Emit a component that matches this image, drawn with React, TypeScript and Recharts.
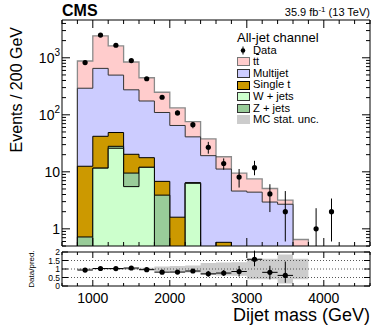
import React from 'react';
import {
  ComposedChart,
  Area,
  Scatter,
  ErrorBar,
  XAxis,
  YAxis,
  ReferenceLine,
  Legend,
  Label,
} from 'recharts';

const FONT = '"Liberation Sans", Arial, Helvetica, sans-serif';

// histogram bins: low edges in GeV, 200 GeV wide
const binEdges = [800, 1000, 1200, 1400, 1600, 1800, 2000, 2200, 2400, 2600, 2800, 3000, 3200, 3400, 3600];
const binEnd = 3800;

// stacked components, bottom to top
const wJets = [0, 11.6, 25.9, 5.5, 12.0, 0, 0, 6.3, 0, 0, 0, 0, 0, 0, 0];
const zJets = [0.72, 0, 2.1, 4.0, 0, 3.9, 0, 0, 0, 0, 0, 0, 0, 0, 0];
const singleTop = [11.8, 30.4, 20.9, 10.8, 5.7, 2.9, 1.6, 0.15, 0, 0.58, 0, 0, 0, 0, 0];
const multijet = [280, 610, 448, 254, 157, 103, 63.4, 34.6, 19.2, 10.6, 4.6, 4.4, 2.95, 2.7, 0];
const ttbar = [585, 1780, 1120, 569, 272, 139, 67, 35, 18.6, 7.2, 4.9, 3.1, 2.15, 0.5, 0.65];

// relative MC stat. uncertainty per bin (ratio panel band)
const mcUnc = [0.04, 0.03, 0.04, 0.05, 0.07, 0.15, 0.17, 0.2, 0.35, 0.38, 0.4, 0.6, 0.6, 0.85, 0.6];

// data points (bin centres), with error bar ends
const dataMass = [900, 1100, 1300, 1500, 1700, 1900, 2100, 2300, 2500, 2700, 2900, 3100, 3300, 3500, 3900, 4100];
const dataEvents = [823, 2500, 1660, 892, 429, 203, 108, 67, 27, 14, 8.1, 11.8, 4.1, 2.0, 1.0, 2.0];
const dataHigh = [852, 2550, 1700, 922, 450, 217, 118, 74, 33.5, 17.2, 11.2, 15.6, 6.06, 4.6, 2.3, 3.4];
const dataLow = [794, 2450, 1620, 862, 408, 189, 98, 58, 20.8, 10.9, 5.3, 8.7, 1.97, 0.6, 0.5, 0.6];

// axis ticks
const xMajorTicks = [1000, 2000, 3000, 4000];
const yMajorTicks = [1, 10, 100, 1000];
const yTickBase = ['1', '10', '10', '10'];
const yTickExp = ['', '', '2', '3'];
const ratioTicks = [0, 0.5, 1, 1.5, 2];
const ratioTickLabels = ['0', '0.5', '1', '1.5', '2'];

const xTicks: number[] = [];
for (let m = 600; m <= 4600; m += 200) xTicks.push(m);
const yTicks: number[] = [];
for (let d = -1; d <= 3; d++) {
  for (let k = 1; k <= 9; k++) {
    const v = k * Math.pow(10, d);
    if (v >= 0.5 && v <= 4600) yTicks.push(d >= 0 ? Math.round(v) : v);
  }
}

const LOW = 1e-4;
const pos = (v: number) => (v > 0 ? v : LOW);

const cum = binEdges.map((_, i) => {
  const w = wJets[i];
  const z = w + zJets[i];
  const t = z + singleTop[i];
  const mj = t + multijet[i];
  const tot = mj + ttbar[i];
  return { w, z, t, mj, tot };
});

const emptyRow = { w: LOW, z: LOW, t: LOW, mj: LOW, tot: LOW };
const histRows = [
  { m: binEdges[0], ...emptyRow },
  ...binEdges.map((m, i) => ({
    m,
    w: pos(cum[i].w),
    z: pos(cum[i].z),
    t: pos(cum[i].t),
    mj: pos(cum[i].mj),
    tot: pos(cum[i].tot),
  })),
  { m: binEnd, ...emptyRow },
];

const dataRows = dataMass.map((m, i) => ({
  m,
  y: dataEvents[i],
  err: [dataEvents[i] - dataLow[i], dataHigh[i] - dataEvents[i]],
}));

const bandRows = [
  ...binEdges.map((m, i) => ({ m, band: [1 - mcUnc[i], 1 + mcUnc[i]] })),
  { m: binEnd, band: [1 - mcUnc[mcUnc.length - 1], 1 + mcUnc[mcUnc.length - 1]] },
];

const ratioRows = dataMass
  .map((m, i) => {
    const b = binEdges.indexOf(m - 100);
    if (b < 0) return null;
    const pred = cum[b].tot;
    return {
      m,
      y: dataEvents[i] / pred,
      err: [(dataEvents[i] - dataLow[i]) / pred, (dataHigh[i] - dataEvents[i]) / pred],
      xe: 100,
    };
  })
  .filter(Boolean);

// ---- ticks drawn inward, ROOT style ----
const xTick = (dir: number, major: number, minor: number, labels: boolean) => (props: any) => {
  const { x, y, payload } = props;
  const isMajor = xMajorTicks.includes(payload.value);
  return (
    <g>
      <line x1={x} x2={x} y1={y} y2={y + dir * (isMajor ? major : minor)} stroke="#000" strokeWidth={1} />
      {labels && isMajor && (
        <text x={x} y={y + 17} textAnchor="middle" fontSize={14} fill="#000">
          {payload.value}
        </text>
      )}
    </g>
  );
};

const logTick = (dir: number, labels: boolean) => (props: any) => {
  const { x, y, payload } = props;
  const idx = yMajorTicks.indexOf(payload.value);
  const isMajor = idx >= 0;
  return (
    <g>
      <line x1={x} x2={x + dir * (isMajor ? 8 : 4)} y1={y} y2={y} stroke="#000" strokeWidth={1} />
      {labels && isMajor && (
        <text x={x - 2} y={y} textAnchor="end" dominantBaseline="central" fontSize={14} fill="#000">
          {yTickBase[idx]}
          {yTickExp[idx] && (
            <tspan dy={-6} fontSize={10}>
              {yTickExp[idx]}
            </tspan>
          )}
        </text>
      )}
    </g>
  );
};

const ratioTick = (dir: number, labels: boolean) => (props: any) => {
  const { x, y, payload } = props;
  const idx = ratioTicks.indexOf(payload.value);
  return (
    <g>
      <line x1={x} x2={x + dir * 6} y1={y} y2={y} stroke="#000" strokeWidth={1} />
      {labels && (
        <text x={x - 2} y={y} textAnchor="end" dominantBaseline="central" fontSize={8.5} fill="#000">
          {ratioTickLabels[idx]}
        </text>
      )}
    </g>
  );
};

const TopTitles = (props: any) => {
  const { x, y, width } = props.viewBox;
  return (
    <g>
      <text x={x} y={y - 3} fontSize={16} fontWeight="bold" fill="#000">
        CMS
      </text>
      <text x={x + width} y={y - 3} textAnchor="end" fontSize={11} fill="#000">
        35.9 fb
        <tspan dy={-4} fontSize={8}>
          -1
        </tspan>
        <tspan dy={4}> (13 TeV)</tspan>
      </text>
    </g>
  );
};

const MainYTitle = (props: any) => {
  const { y } = props.viewBox;
  const cx = 16;
  const top = y + 7;
  return (
    <text
      x={cx}
      y={top}
      transform={`rotate(-90, ${cx}, ${top})`}
      textAnchor="end"
      dominantBaseline="central"
      fontSize={16}
      fill="#000"
    >
      Events / 200 GeV
    </text>
  );
};

const RatioYTitle = (props: any) => {
  const { y, height } = props.viewBox;
  const cx = 31;
  const cy = y + height / 2;
  return (
    <text
      x={cx}
      y={cy}
      transform={`rotate(-90, ${cx}, ${cy})`}
      textAnchor="middle"
      dominantBaseline="central"
      fontSize={8}
      fill="#000"
    >
      Data/pred.
    </text>
  );
};

const XTitle = (props: any) => {
  const { x, y, width } = props.viewBox;
  return (
    <text x={x + width} y={y + 35} textAnchor="end" fontSize={18} fill="#000">
      Dijet mass (GeV)
    </text>
  );
};

const DataDot = (props: any) => <circle cx={props.cx} cy={props.cy} r={2.6} fill="#000" />;

const legendEntries = [
  { key: 'tt', fill: '#ffcccc', stroke: '#777' },
  { key: 'Multijet', fill: '#ccccff', stroke: '#333' },
  { key: 'Single t', fill: '#cc9900', stroke: '#000' },
  { key: 'W + jets', fill: '#ccffcc', stroke: '#333' },
  { key: 'Z + jets', fill: '#99cc99', stroke: '#333' },
  { key: 'MC stat. unc.', fill: '#cccccc', stroke: 'none' },
];

const LegendBlock = () => (
  <div style={{ fontFamily: FONT, fontSize: 11.2, color: '#000', lineHeight: 1 }}>
    <div style={{ fontSize: 13, height: 13.5, lineHeight: '13px' }}>All-jet channel</div>
    <div style={{ display: 'flex', alignItems: 'center', height: 11.6 }}>
      <svg width={16} height={11}>
        <line x1={6} x2={6} y1={1.5} y2={9.5} stroke="#000" />
        <circle cx={6} cy={5.5} r={2.3} fill="#000" />
      </svg>
      <span>Data</span>
    </div>
    {legendEntries.map((e) => (
      <div key={e.key} style={{ display: 'flex', alignItems: 'center', height: 11.6 }}>
        <div style={{ width: 16 }}>
          <div
            style={{
              width: 13,
              height: 9,
              boxSizing: 'border-box',
              background: e.fill,
              border: e.stroke === 'none' ? 'none' : `1px solid ${e.stroke}`,
            }}
          />
        </div>
        <span>
          {e.key === 'tt' ? (
            <>
              t<span style={{ textDecoration: 'overline' }}>t</span>
            </>
          ) : (
            e.key
          )}
        </span>
      </div>
    ))}
  </div>
);

export default function App() {
  return (
    <div
      style={{
        position: 'absolute',
        left: 0,
        top: 0,
        width: 390,
        height: 329,
        background: '#fff',
        fontFamily: FONT,
      }}
    >
      <div style={{ position: 'absolute', left: 0, top: 0 }}>
        <ComposedChart width={390} height={248} data={histRows} margin={{ top: 19, right: 0, bottom: 1, left: 0 }}>
          <XAxis
            xAxisId="b"
            dataKey="m"
            type="number"
            domain={[600, 4600]}
            allowDataOverflow
            ticks={xTicks}
            interval={0}
            height={1}
            tickSize={0}
            tickMargin={0}
            tickLine={false}
            axisLine={{ stroke: '#000' }}
            tick={xTick(-1, 8, 4, false)}
          />
          <XAxis
            xAxisId="t"
            orientation="top"
            dataKey="m"
            type="number"
            domain={[600, 4600]}
            allowDataOverflow
            ticks={xTicks}
            interval={0}
            height={1}
            tickSize={0}
            tickMargin={0}
            tickLine={false}
            axisLine={{ stroke: '#000' }}
            tick={xTick(1, 8, 4, false)}
          >
            <Label content={TopTitles} />
          </XAxis>
          <YAxis
            yAxisId="l"
            scale="log"
            domain={[0.5, 4600]}
            allowDataOverflow
            ticks={yTicks}
            interval={0}
            width={62}
            tickSize={0}
            tickMargin={0}
            tickLine={false}
            axisLine={{ stroke: '#000' }}
            tick={logTick(1, true)}
          >
            <Label content={MainYTitle} />
          </YAxis>
          <YAxis
            yAxisId="r"
            orientation="right"
            scale="log"
            domain={[0.5, 4600]}
            allowDataOverflow
            ticks={yTicks}
            interval={0}
            width={20}
            tickSize={0}
            tickMargin={0}
            tickLine={false}
            axisLine={{ stroke: '#000' }}
            tick={logTick(-1, false)}
          />
          <Area xAxisId="b" yAxisId="l" type="stepAfter" dataKey="tot" fill="#ffcccc" fillOpacity={1} stroke="#8a8a8a" strokeWidth={1.3} dot={false} activeDot={false} isAnimationActive={false} />
          <Area xAxisId="b" yAxisId="l" type="stepAfter" dataKey="mj" fill="#ccccff" fillOpacity={1} stroke="#333" strokeWidth={1} dot={false} activeDot={false} isAnimationActive={false} />
          <Area xAxisId="b" yAxisId="l" type="stepAfter" dataKey="t" fill="#cc9900" fillOpacity={1} stroke="#000" strokeWidth={1} dot={false} activeDot={false} isAnimationActive={false} />
          <Area xAxisId="b" yAxisId="l" type="stepAfter" dataKey="z" fill="#99cc99" fillOpacity={1} stroke="#000" strokeWidth={1} dot={false} activeDot={false} isAnimationActive={false} />
          <Area xAxisId="b" yAxisId="l" type="stepAfter" dataKey="w" fill="#ccffcc" fillOpacity={1} stroke="#000" strokeWidth={1} dot={false} activeDot={false} isAnimationActive={false} />
          <Scatter xAxisId="b" yAxisId="l" data={dataRows} dataKey="y" shape={DataDot} isAnimationActive={false}>
            <ErrorBar dataKey="err" direction="y" width={0} stroke="#000" strokeWidth={1} />
          </Scatter>
          <Legend
            layout="vertical"
            align="center"
            verticalAlign="middle"
            content={() => <LegendBlock />}
            wrapperStyle={{ left: 237, top: 31, width: 140, height: 95 }}
          />
        </ComposedChart>
      </div>
      <div style={{ position: 'absolute', left: 0, top: 240 }}>
        <ComposedChart width={390} height={89} data={bandRows} margin={{ top: 11, right: 0, bottom: 0, left: 0 }}>
          <XAxis
            xAxisId="b"
            dataKey="m"
            type="number"
            domain={[600, 4600]}
            allowDataOverflow
            ticks={xTicks}
            interval={0}
            height={43}
            tickSize={0}
            tickMargin={0}
            tickLine={false}
            axisLine={{ stroke: '#000' }}
            tick={xTick(-1, 6, 3, true)}
          >
            <Label content={XTitle} />
          </XAxis>
          <XAxis
            xAxisId="t"
            orientation="top"
            dataKey="m"
            type="number"
            domain={[600, 4600]}
            allowDataOverflow
            ticks={xTicks}
            interval={0}
            height={1}
            tickSize={0}
            tickMargin={0}
            tickLine={false}
            axisLine={{ stroke: '#000' }}
            tick={xTick(1, 6, 3, false)}
          />
          <YAxis
            yAxisId="l"
            domain={[0, 2]}
            allowDataOverflow
            ticks={ratioTicks}
            interval={0}
            width={62}
            tickSize={0}
            tickMargin={0}
            tickLine={false}
            axisLine={{ stroke: '#000' }}
            tick={ratioTick(1, true)}
          >
            <Label content={RatioYTitle} />
          </YAxis>
          <YAxis
            yAxisId="r"
            orientation="right"
            domain={[0, 2]}
            allowDataOverflow
            ticks={ratioTicks}
            interval={0}
            width={20}
            tickSize={0}
            tickMargin={0}
            tickLine={false}
            axisLine={{ stroke: '#000' }}
            tick={ratioTick(-1, false)}
          />
          <Area xAxisId="b" yAxisId="l" type="stepAfter" dataKey="band" fill="#cccccc" fillOpacity={1} stroke="none" dot={false} activeDot={false} isAnimationActive={false} />
          <ReferenceLine xAxisId="b" yAxisId="l" y={0.5} stroke="#555" strokeDasharray="1 2" />
          <ReferenceLine xAxisId="b" yAxisId="l" y={1} stroke="#555" strokeDasharray="1 2" />
          <ReferenceLine xAxisId="b" yAxisId="l" y={1.5} stroke="#555" strokeDasharray="1 2" />
          <Scatter xAxisId="b" yAxisId="l" data={ratioRows as any[]} dataKey="y" shape={DataDot} isAnimationActive={false}>
            <ErrorBar dataKey="err" direction="y" width={0} stroke="#000" strokeWidth={1} />
            <ErrorBar dataKey="xe" direction="x" width={0} stroke="#000" strokeWidth={1} />
          </Scatter>
        </ComposedChart>
      </div>
    </div>
  );
}
